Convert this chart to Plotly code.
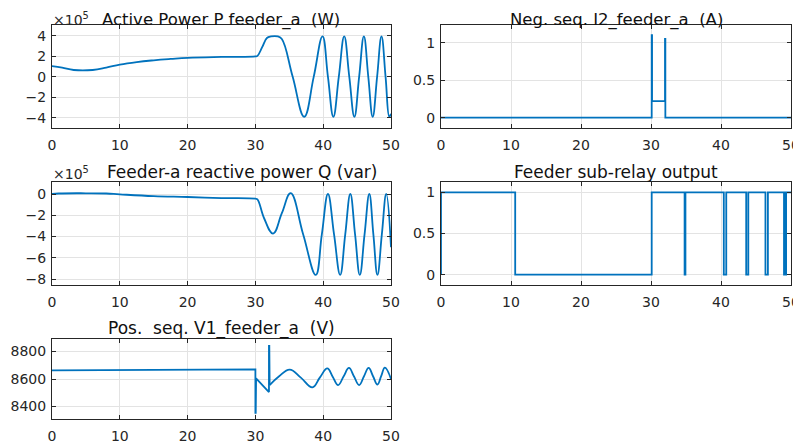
import plotly.graph_objects as go

# ---------------- data ----------------
time_ticks = [0, 10, 20, 30, 40, 50]

# Active power P feeder_a, in units of 1e5 W
p_t = [0, 1.5, 3.2, 6.0, 8, 10, 12.5, 15, 17.5, 20, 25, 30, 30.3, 31.0, 31.7, 32.3,
       33.3, 33.9, 35.5, 37.2, 38.6, 39.9, 40.7, 41.5, 42.3, 43.1, 43.85, 44.6, 45.3,
       46.0, 46.65, 47.3, 47.95, 48.6, 49.2, 49.75, 50]
p_val = [1.05, 0.9, 0.67, 0.67, 0.9, 1.2, 1.45, 1.62, 1.75, 1.86, 1.95, 2.0, 2.05, 2.9,
         3.8, 3.95, 3.95, 3.7, 0, -3.9, 0, 3.95, 0, -3.9, 0, 3.95, 0, -3.9, 0, 3.95, 0,
         -3.9, 0, 3.95, 0, -3.9, -3.6]
p_ticks = [-4, -2, 0, 2, 4]

# Reactive power Q, in units of 1e5 var
q_t = [0, 1, 5, 8, 10, 15, 20, 25, 30, 30.3, 31.3, 32.6, 33.9, 35.2, 37.05, 38.9, 39.8,
       40.7, 41.6, 42.5, 43.25, 44.0, 44.7, 45.4, 46.1, 46.8, 47.4, 48.0, 48.65, 49.3, 50]
q_val = [0, 0.05, 0.07, 0.05, -0.03, -0.2, -0.28, -0.38, -0.44, -0.5, -2.3, -3.72, -1.8,
         0.08, -3.8, -7.6, -3.8, 0, -3.8, -7.6, -3.8, 0, -3.8, -7.6, -3.8, 0, -3.8, -7.6,
         -3.8, 0, -5.0]
q_ticks = [-8, -6, -4, -2, 0]

# Negative sequence current I2
i2_t = [0, 30.1, 30.1, 30.15, 30.15, 32.0, 32.0, 32.05, 32.05, 50]
i2_val = [0, 0, 1.1, 1.1, 0.22, 0.22, 1.05, 1.05, 0, 0]
i2_ticks = [0, 0.5, 1]

# Feeder sub-relay output
relay_t = [0, 0, 10.6, 30.1, 34.8, 34.92, 40.4, 40.75, 43.6, 43.9, 46.35, 46.7,
           49.0, 49.1, 49.15, 49.3, 50]
relay_val = [0, 1, 0, 1, 0, 1, 0, 1, 0, 1, 0, 1, 0, 1, 0, 1, 1]
relay_ticks = [0, 0.5, 1]

# Positive sequence voltage V1 (fault part, then oscillation part)
v1_fault_t = [0, 8.5, 16, 30, 30.0, 30.05, 30.1, 32.0, 32.0, 32.05, 32.1]
v1_fault_val = [8662, 8665, 8670, 8670, 8355, 8355, 8605, 8505, 8840, 8840, 8556]
v1_osc_t = [32.1, 33.5, 35.06, 36.7, 38.4, 39.5, 40.6, 41.4, 42.2, 43.0, 43.8, 44.55,
            45.3, 46.0, 46.7, 47.35, 48.0, 48.55, 49.1, 50]
v1_osc_val = [8556, 8620, 8668, 8610, 8540, 8610, 8677, 8617, 8556, 8618, 8680, 8618,
              8556, 8618, 8680, 8620, 8560, 8621, 8682, 8600]
v1_ticks = [8400, 8600, 8800]

titles = ["Active Power P feeder_a\u00a0\u00a0(W)",
          "Neg. seq. I2_feeder_a\u00a0\u00a0(A)",
          "Feeder-a reactive power Q (var)",
          "Feeder sub-relay output",
          "Pos.\u00a0\u00a0seq. V1_feeder_a\u00a0\u00a0(V)"]

# ---------------- figure ----------------
# The page body keeps its default 8 px margin, so the figure starts 8 px in
# from the window's corner; reference pixel positions are shifted by it.
OFF = 8
W, H = 801 - OFF, 446 - OFF
LINE = "#0072BD"
AX = "#262626"
GRID = "#e3e3e3"
FONT = "DejaVu Sans"


def px_x(x):
    return (x - OFF) / W


def px_y(y):
    return 1 - (y - OFF) / H


fig = go.Figure()

line_style = dict(color=LINE, width=1.8)
spline = dict(**line_style, shape="spline", smoothing=1.2)
fig.add_trace(go.Scatter(x=p_t, y=p_val, mode="lines", line=spline, xaxis="x", yaxis="y"))
fig.add_trace(go.Scatter(x=i2_t, y=i2_val, mode="lines", line=line_style, xaxis="x2", yaxis="y2"))
fig.add_trace(go.Scatter(x=q_t, y=q_val, mode="lines", line=spline, xaxis="x3", yaxis="y3"))
fig.add_trace(go.Scatter(x=relay_t, y=relay_val, mode="lines", line=dict(**line_style, shape="hv"),
                         xaxis="x4", yaxis="y4"))
fig.add_trace(go.Scatter(x=v1_fault_t, y=v1_fault_val, mode="lines", line=line_style,
                         xaxis="x5", yaxis="y5"))
fig.add_trace(go.Scatter(x=v1_osc_t, y=v1_osc_val, mode="lines", line=spline,
                         xaxis="x5", yaxis="y5"))

# plot-area boxes in reference pixels: (left, right, top, bottom)
boxes = [
    (52, 391, 25, 128),
    (441, 791, 25, 128),
    (52, 391, 182, 285),
    (441, 791, 182, 285),
    (52, 391, 339, 419),
]
yranges = [[-5.0, 5.07], [-0.137, 1.235], [-8.55, 1.13], [-0.125, 1.125], [8310, 8890]]
yticks = [p_ticks, i2_ticks, q_ticks, relay_ticks, v1_ticks]

common = dict(showline=True, mirror="ticks", linecolor=AX, linewidth=1,
              ticks="inside", ticklen=4, tickcolor=AX, showgrid=True,
              gridcolor=GRID, gridwidth=1, zeroline=False, automargin=False,
              tickfont=dict(family=FONT, size=14, color=AX))

layout = {}
for i, (l, r, t, b) in enumerate(boxes):
    sfx = "" if i == 0 else str(i + 1)
    layout["xaxis" + sfx] = dict(common, domain=[px_x(l), px_x(r)], range=[0, 50],
                                 tickvals=time_ticks, anchor="y" + sfx,
                                 ticklabelstandoff=4)
    layout["yaxis" + sfx] = dict(common, domain=[px_y(b), px_y(t)], range=yranges[i],
                                 tickvals=yticks[i], anchor="x" + sfx,
                                 ticklabelstandoff=2)

ann = []
# title centres in reference pixels (top row is anchored at the figure's top edge)
title_pos = [(221, None), (616, None), (243, 172), (616, 172), (221, 328)]
for txt, (cx, cy) in zip(titles, title_pos):
    if cy is None:
        ann.append(dict(text=txt, x=px_x(cx), y=1.0, xref="paper", yref="paper",
                        showarrow=False, xanchor="center", yanchor="top",
                        font=dict(family=FONT, size=16.5, color="#111111")))
    else:
        ann.append(dict(text=txt, x=px_x(cx), y=px_y(cy), xref="paper", yref="paper",
                        showarrow=False, xanchor="center", yanchor="middle",
                        font=dict(family=FONT, size=17, color="#111111")))
for cy in (None, 173):
    if cy is None:
        ann.append(dict(text="\u00d710<sup>5</sup>", x=px_x(51), y=1.0, xref="paper",
                        yref="paper", showarrow=False, xanchor="left", yanchor="top",
                        font=dict(family=FONT, size=14, color=AX)))
    else:
        ann.append(dict(text="\u00d710<sup>5</sup>", x=px_x(51), y=px_y(cy), xref="paper",
                        yref="paper", showarrow=False, xanchor="left", yanchor="middle",
                        font=dict(family=FONT, size=14, color=AX)))

fig.update_layout(**layout)
fig.update_layout(width=W, height=H, margin=dict(l=0, r=0, t=0, b=0),
                  paper_bgcolor="white", plot_bgcolor="white", showlegend=False,
                  annotations=ann)

fig.write_html("out.html")
